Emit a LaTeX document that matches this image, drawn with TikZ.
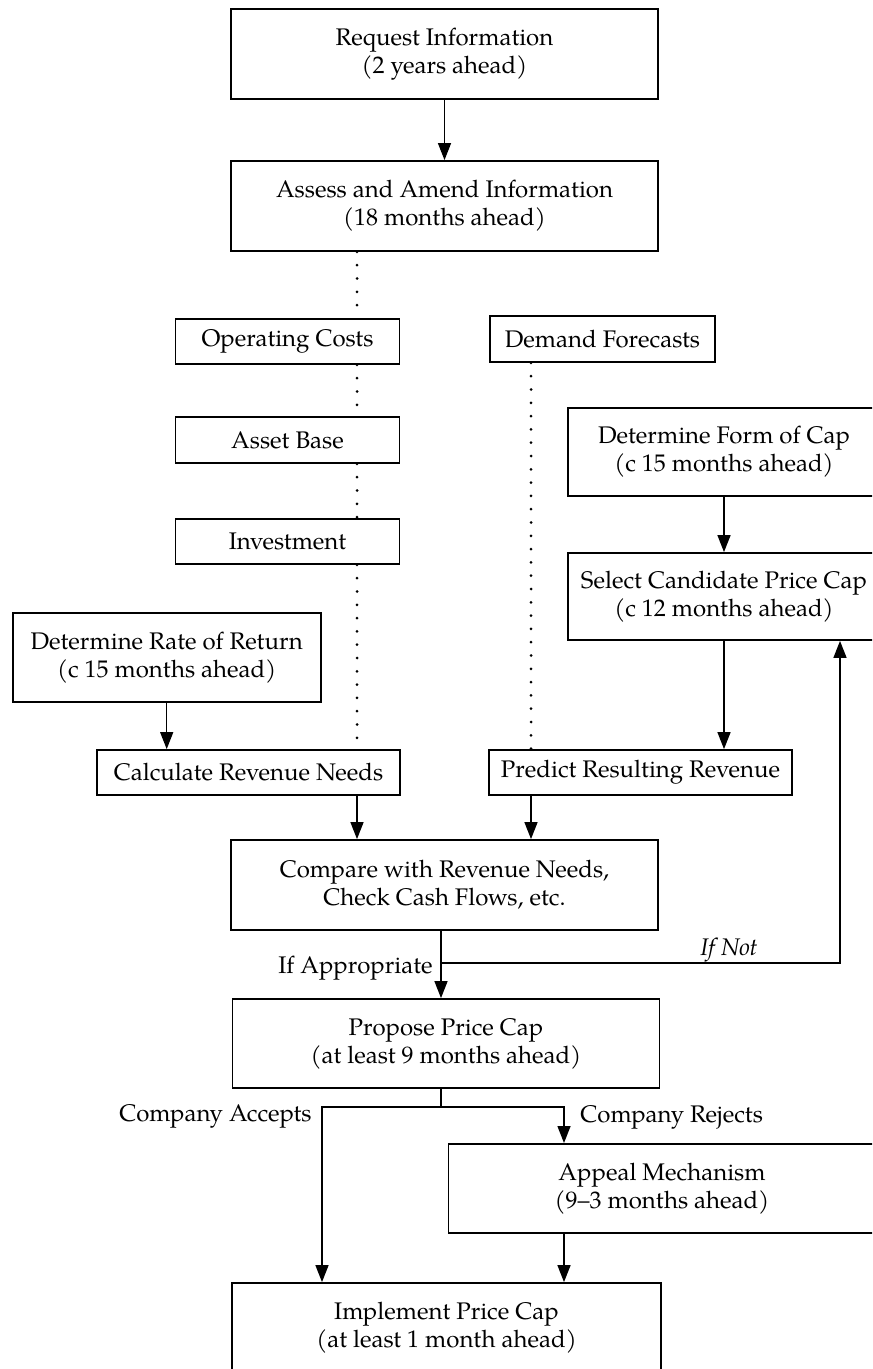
\documentclass[tikz,border=0pt]{standalone}
\usepackage{fontspec}
\setmainfont{TeX Gyre Pagella}
\usetikzlibrary{arrows.meta}
\begin{document}
\begin{tikzpicture}[x=0.5pt,y=-0.5pt,
  box/.style={draw, line width=0.9pt, rectangle, inner sep=0pt, align=center, font=\fontsize{12}{14}\selectfont},
  arr/.style={line width=0.7pt, -{Triangle[length=8.5pt,width=6.5pt]}},
  ln/.style={line width=0.7pt},
  dots/.style={line width=1.5pt, dash pattern=on 0pt off 6.65pt, line cap=round},
  lbl/.style={font=\fontsize{12}{14}\selectfont, inner sep=0pt}]
\useasboundingbox (0,0) rectangle (872,1369);
\clip (0,0) rectangle (872,1369);
% boxes
\node[box, minimum width=213.5pt, minimum height=45pt] (req) at (444.5,54) {Request Information\\(2 years ahead)};
\node[box, minimum width=213.5pt, minimum height=45pt] (assess) at (444.5,206) {Assess and Amend Information\\(18 months ahead)};
\node[box, minimum width=112pt, minimum height=22.5pt] (op) at (287.5,341.5) {Operating Costs};
\node[box, minimum width=112pt, minimum height=23pt] (asset) at (287.5,440) {Asset Base};
\node[box, minimum width=112pt, minimum height=22.5pt] (inv) at (287.5,541.5) {Investment};
\node[box, minimum width=112.5pt, minimum height=23pt] (dem) at (602.5,339) {Demand Forecasts};
\node[box, minimum width=156pt, minimum height=44pt] (form) at (724,452) {Determine Form of Cap\\(c 15 months ahead)};
\node[box, minimum width=156pt, minimum height=43.5pt] (sel) at (724,596.5) {Select Candidate Price Cap\\(c 12 months ahead)};
\node[box, minimum width=154pt, minimum height=44.5pt] (rate) at (166.7,657.5) {Determine Rate of Return\\(c 15 months ahead)};
\node[box, minimum width=151.5pt, minimum height=22.5pt] (calc) at (248.5,772.5) {Calculate Revenue Needs};
\node[box, minimum width=151.5pt, minimum height=22.5pt] (pred) at (640.5,772.5) {Predict Resulting Revenue};
\node[box, minimum width=213.5pt, minimum height=45pt] (cmp) at (444.5,885) {Compare with Revenue Needs,\\Check Cash Flows, etc.};
\node[box, minimum width=213.5pt, minimum height=44.5pt] (prop) at (446,1043.5) {Propose Price Cap\\(at least 9 months ahead)};
\node[box, minimum width=213.5pt, minimum height=44.5pt] (app) at (662,1188.4) {Appeal Mechanism\\(9--3 months ahead)};
\node[box, minimum width=214.5pt, minimum height=44.5pt] (impl) at (446.5,1327.5) {Implement Price Cap\\(at least 1 month ahead)};
% labels
\node[lbl, anchor=base east] (ifapp) at (433,973) {If Appropriate};
\node[lbl, anchor=base] (ifnot) at (729,955) {\itshape If Not};
\node[lbl, anchor=base east] (ca) at (312,1121) {Company Accepts};
\node[lbl, anchor=base west] (cr) at (580,1122) {Company Rejects};
% helper coordinates
\coordinate (dl) at (357,0);
\coordinate (dr) at (531,0);
\coordinate (cx) at (441,0);
\coordinate (fb) at (840,963);
\coordinate (sp) at (441,1107);
\coordinate (acc) at (322,1107);
\coordinate (rej) at (564,1107);
% connectors
\draw[arr] (req.south) -- (assess.north);
\draw[dots] (dl |- assess.south) -- (dl |- op.north);
\draw[dots] (dl |- op.south) -- (dl |- asset.north);
\draw[dots] (dl |- asset.south) -- (dl |- inv.north);
\draw[dots] (dl |- inv.south) -- (dl |- calc.north);
\draw[dots] (dr |- dem.south) -- (dr |- pred.north);
\draw[arr] (form.south) -- (sel.north);
\draw[arr] (sel.south) -- (sel.south |- pred.north);
\draw[arr] (rate.south) -- (rate.south |- calc.north);
\draw[arr] (dl |- calc.south) -- (dl |- cmp.north);
\draw[arr] (dr |- pred.south) -- (dr |- cmp.north);
\draw[arr] (cx |- cmp.south) -- (cx |- prop.north);
\draw[arr] (cx |- fb) -- (fb) -- (fb |- sel.south);
\draw[ln] (cx |- prop.south) -- (sp);
\draw[arr] (sp) -- (acc) -- (acc |- impl.north);
\draw[arr] (sp) -- (rej) -- (rej |- app.north);
\draw[arr] (rej |- app.south) -- (rej |- impl.north);
\end{tikzpicture}
\end{document}
